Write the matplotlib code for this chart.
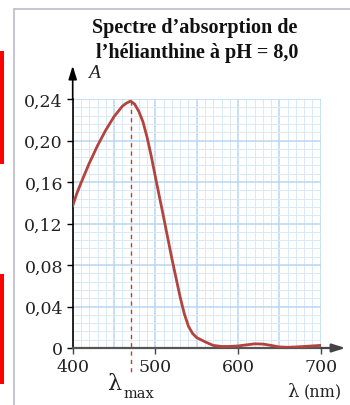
import matplotlib
matplotlib.use('Agg')
import matplotlib.pyplot as plt
from matplotlib.ticker import FixedLocator
from matplotlib.patches import Rectangle
from matplotlib.lines import Line2D

# absorption spectrum
wavelength = [400, 405, 410, 420, 430, 440, 450, 460, 465, 470, 475, 480, 485, 490,
              495, 500, 510, 520, 530, 535, 540, 545, 550, 560, 570, 580, 590, 600,
              610, 620, 630, 640, 650, 660, 670, 680, 690, 700]
absorbance = [0.137, 0.149, 0.159, 0.178, 0.195, 0.210, 0.223, 0.233, 0.236, 0.238,
              0.235, 0.228, 0.218, 0.203, 0.185, 0.165, 0.126, 0.086, 0.049, 0.033,
              0.021, 0.014, 0.010, 0.006, 0.0025, 0.0015, 0.0015, 0.002, 0.003, 0.004,
              0.0038, 0.0025, 0.001, 0.0007, 0.001, 0.0015, 0.002, 0.0025]
lambda_max = 470
y_ticks = [0, 0.04, 0.08, 0.12, 0.16, 0.20, 0.24]
y_labels = ['0', '0,04', '0,08', '0,12', '0,16', '0,20', '0,24']
x_ticks = [400, 500, 600, 700]

W, H = 350, 406
curve_color = '#b3443d'
text_color = '#222222'

fig = plt.figure(figsize=(W / 100, H / 100), dpi=100)
fig.patch.set_facecolor('white')

# frame of the page and red margin marks
fig.add_artist(Line2D([14 / W, 14 / W], [0, 1 - 10 / H], color='#c4c0cf', lw=1.3))
fig.add_artist(Line2D([14 / W, 1], [1 - 10 / H, 1 - 10 / H], color='#c4c0cf', lw=1.3))
fig.add_artist(Rectangle((0, 1 - 165 / H), 4 / W, 113 / H, color='#ff0000', lw=0))
fig.add_artist(Rectangle((0, 1 - 385 / H), 4 / W, 110 / H, color='#ff0000', lw=0))

ax = fig.add_axes([72.7 / W, 57 / H, 248 / W, 249 / H])
ax.set_xlim(400, 700)
ax.set_ylim(0, 0.24)

# graph paper grid: 10 nm x 0.008 squares, heavier every 50 nm / 0.04
for v in range(400, 701, 10):
    major = v % 50 == 0
    ax.axvline(v, color='#b9d6f2' if major else '#d9e9f8', lw=1.1 if major else 0.7, zorder=0)
for k in range(31):
    major = k % 5 == 0
    ax.axhline(k * 0.008, color='#b9d6f2' if major else '#d9e9f8',
               lw=1.1 if major else 0.7, zorder=0)

ax.plot(wavelength, absorbance, color=curve_color, lw=2.0, zorder=3)
peak = absorbance[wavelength.index(lambda_max)]
ax.plot([lambda_max, lambda_max], [peak, -0.027], color=curve_color, lw=1.0,
        ls=(0, (3, 3)), clip_on=False, zorder=3)

for side in ['top', 'right']:
    ax.spines[side].set_visible(False)
ax.spines['left'].set_color('black')
ax.spines['left'].set_linewidth(1.2)
ax.spines['bottom'].set_color('#555555')
ax.spines['bottom'].set_linewidth(1.6)

# axis arrows
ax.annotate('', xy=(730, 0), xytext=(700, 0), xycoords='data',
            arrowprops=dict(arrowstyle='-|>,head_length=0.8,head_width=0.25',
                            color='#444444', lw=1.6, shrinkA=0, shrinkB=0),
            annotation_clip=False)
ax.annotate('', xy=(400, 0.272), xytext=(400, 0.24), xycoords='data',
            arrowprops=dict(arrowstyle='-|>,head_length=0.8,head_width=0.25',
                            color='black', lw=1.2, shrinkA=0, shrinkB=0),
            annotation_clip=False)

ax.yaxis.set_major_locator(FixedLocator(y_ticks))
ax.set_yticklabels(y_labels)
ax.xaxis.set_major_locator(FixedLocator(x_ticks))
ax.set_xticklabels([str(t) for t in x_ticks])
ax.tick_params(axis='y', direction='out', length=4, width=1, pad=3, labelsize=12.5)
ax.tick_params(axis='x', direction='out', length=4, width=1, pad=3, labelsize=12.5,
               color='#444444')
for lab in ax.get_xticklabels() + ax.get_yticklabels():
    lab.set_family('DejaVu Serif')
    lab.set_color(text_color)

# titles and axis names
fig.text(195 / W, 1 - 33 / H, 'Spectre d’absorption de', ha='center', va='baseline',
         family='Liberation Serif', fontweight='bold', fontsize=14.5, color='#111111')
fig.text(197 / W, 1 - 58 / H, 'l’hélianthine à pH = 8,0', ha='center', va='baseline',
         family='Liberation Serif', fontweight='bold', fontsize=14.5, color='#111111')
fig.text(88 / W, 1 - 78 / H, 'A', ha='left', va='baseline',
         family='Liberation Serif', style='italic', fontsize=14, color=text_color)
fig.text(107 / W, 1 - 390 / H, 'λ', ha='left', va='baseline',
         family='DejaVu Serif', fontsize=16, color=text_color)
fig.text(124 / W, 1 - 398 / H, 'max', ha='left', va='baseline',
         family='DejaVu Serif', fontsize=10.5, color=text_color)
fig.text(287 / W, 1 - 397 / H, 'λ', ha='left', va='baseline',
         family='DejaVu Serif', fontsize=13, color=text_color)
fig.text(304 / W, 1 - 397 / H, '(nm)', ha='left', va='baseline',
         family='DejaVu Serif', fontsize=11.5, color=text_color)

fig.savefig('out.png', dpi=100)
